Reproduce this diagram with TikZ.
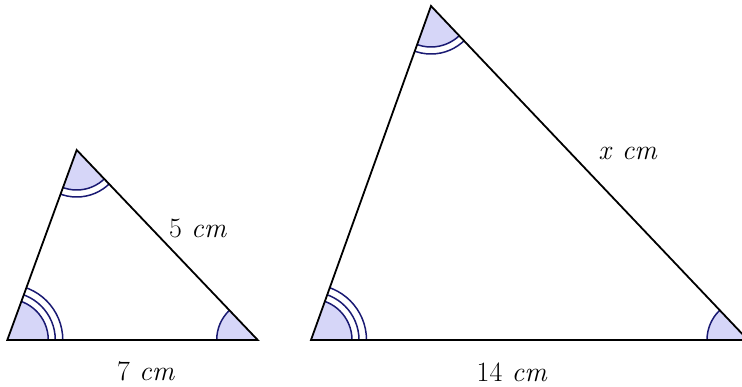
\documentclass[tikz,border=0pt]{standalone}
\usepackage{fontspec}
\begin{document}
\begin{tikzpicture}[x=1pt,y=1pt,
  side/.style={draw=black,line width=1.8pt,line join=miter},
  anglefill/.style={fill=angfill},
  anglearc/.style={draw=angline,line width=1.5pt},
  lbl/.style={font=\fontsize{28}{32}\selectfont,inner sep=0pt}]
\definecolor{angfill}{RGB}{214,214,248}
\definecolor{angline}{RGB}{26,26,115}
\useasboundingbox (0,0) rectangle (742,387);
% small triangle
\coordinate (A) at (7.3,47);
\coordinate (B) at (76.7,237);
\coordinate (C) at (257.7,47);
% large triangle
\coordinate (D) at (311,47);
\coordinate (E) at (431,381);
\coordinate (F) at (748,47);
% angle marks small
\begin{scope}
  \clip (A) -- (B) -- (C) -- cycle;
  \fill[anglefill] (A) circle (41);
  \draw[anglearc] (A) circle (41) (A) circle (48) (A) circle (55.5);
  \fill[anglefill] (B) circle (40);
  \draw[anglearc] (B) circle (40) (B) circle (47);
  \fill[anglefill] (C) circle (41);
  \draw[anglearc] (C) circle (41);
\end{scope}
% angle marks large
\begin{scope}
  \clip (D) -- (E) -- (F) -- cycle;
  \fill[anglefill] (D) circle (41);
  \draw[anglearc] (D) circle (41) (D) circle (48) (D) circle (55.5);
  \fill[anglefill] (E) circle (41);
  \draw[anglearc] (E) circle (41) (E) circle (48);
  \fill[anglefill] (F) circle (41);
  \draw[anglearc] (F) circle (41);
\end{scope}
\draw[side] (A) -- (B) -- (C) -- cycle;
\draw[side] (D) -- (E) -- (F) -- cycle;
% labels
\node[lbl] (l5) at (198,159) {5\kern0.33em\textit{cm}};
\node[lbl] (l7) at (146,16) {7\kern0.33em\textit{cm}};
\node[lbl] (lx) at (628,234) {\textit{x}\kern0.33em\textit{cm}};
\node[lbl] (l14) at (512,15) {14\kern0.33em\textit{cm}};
\end{tikzpicture}
\end{document}
